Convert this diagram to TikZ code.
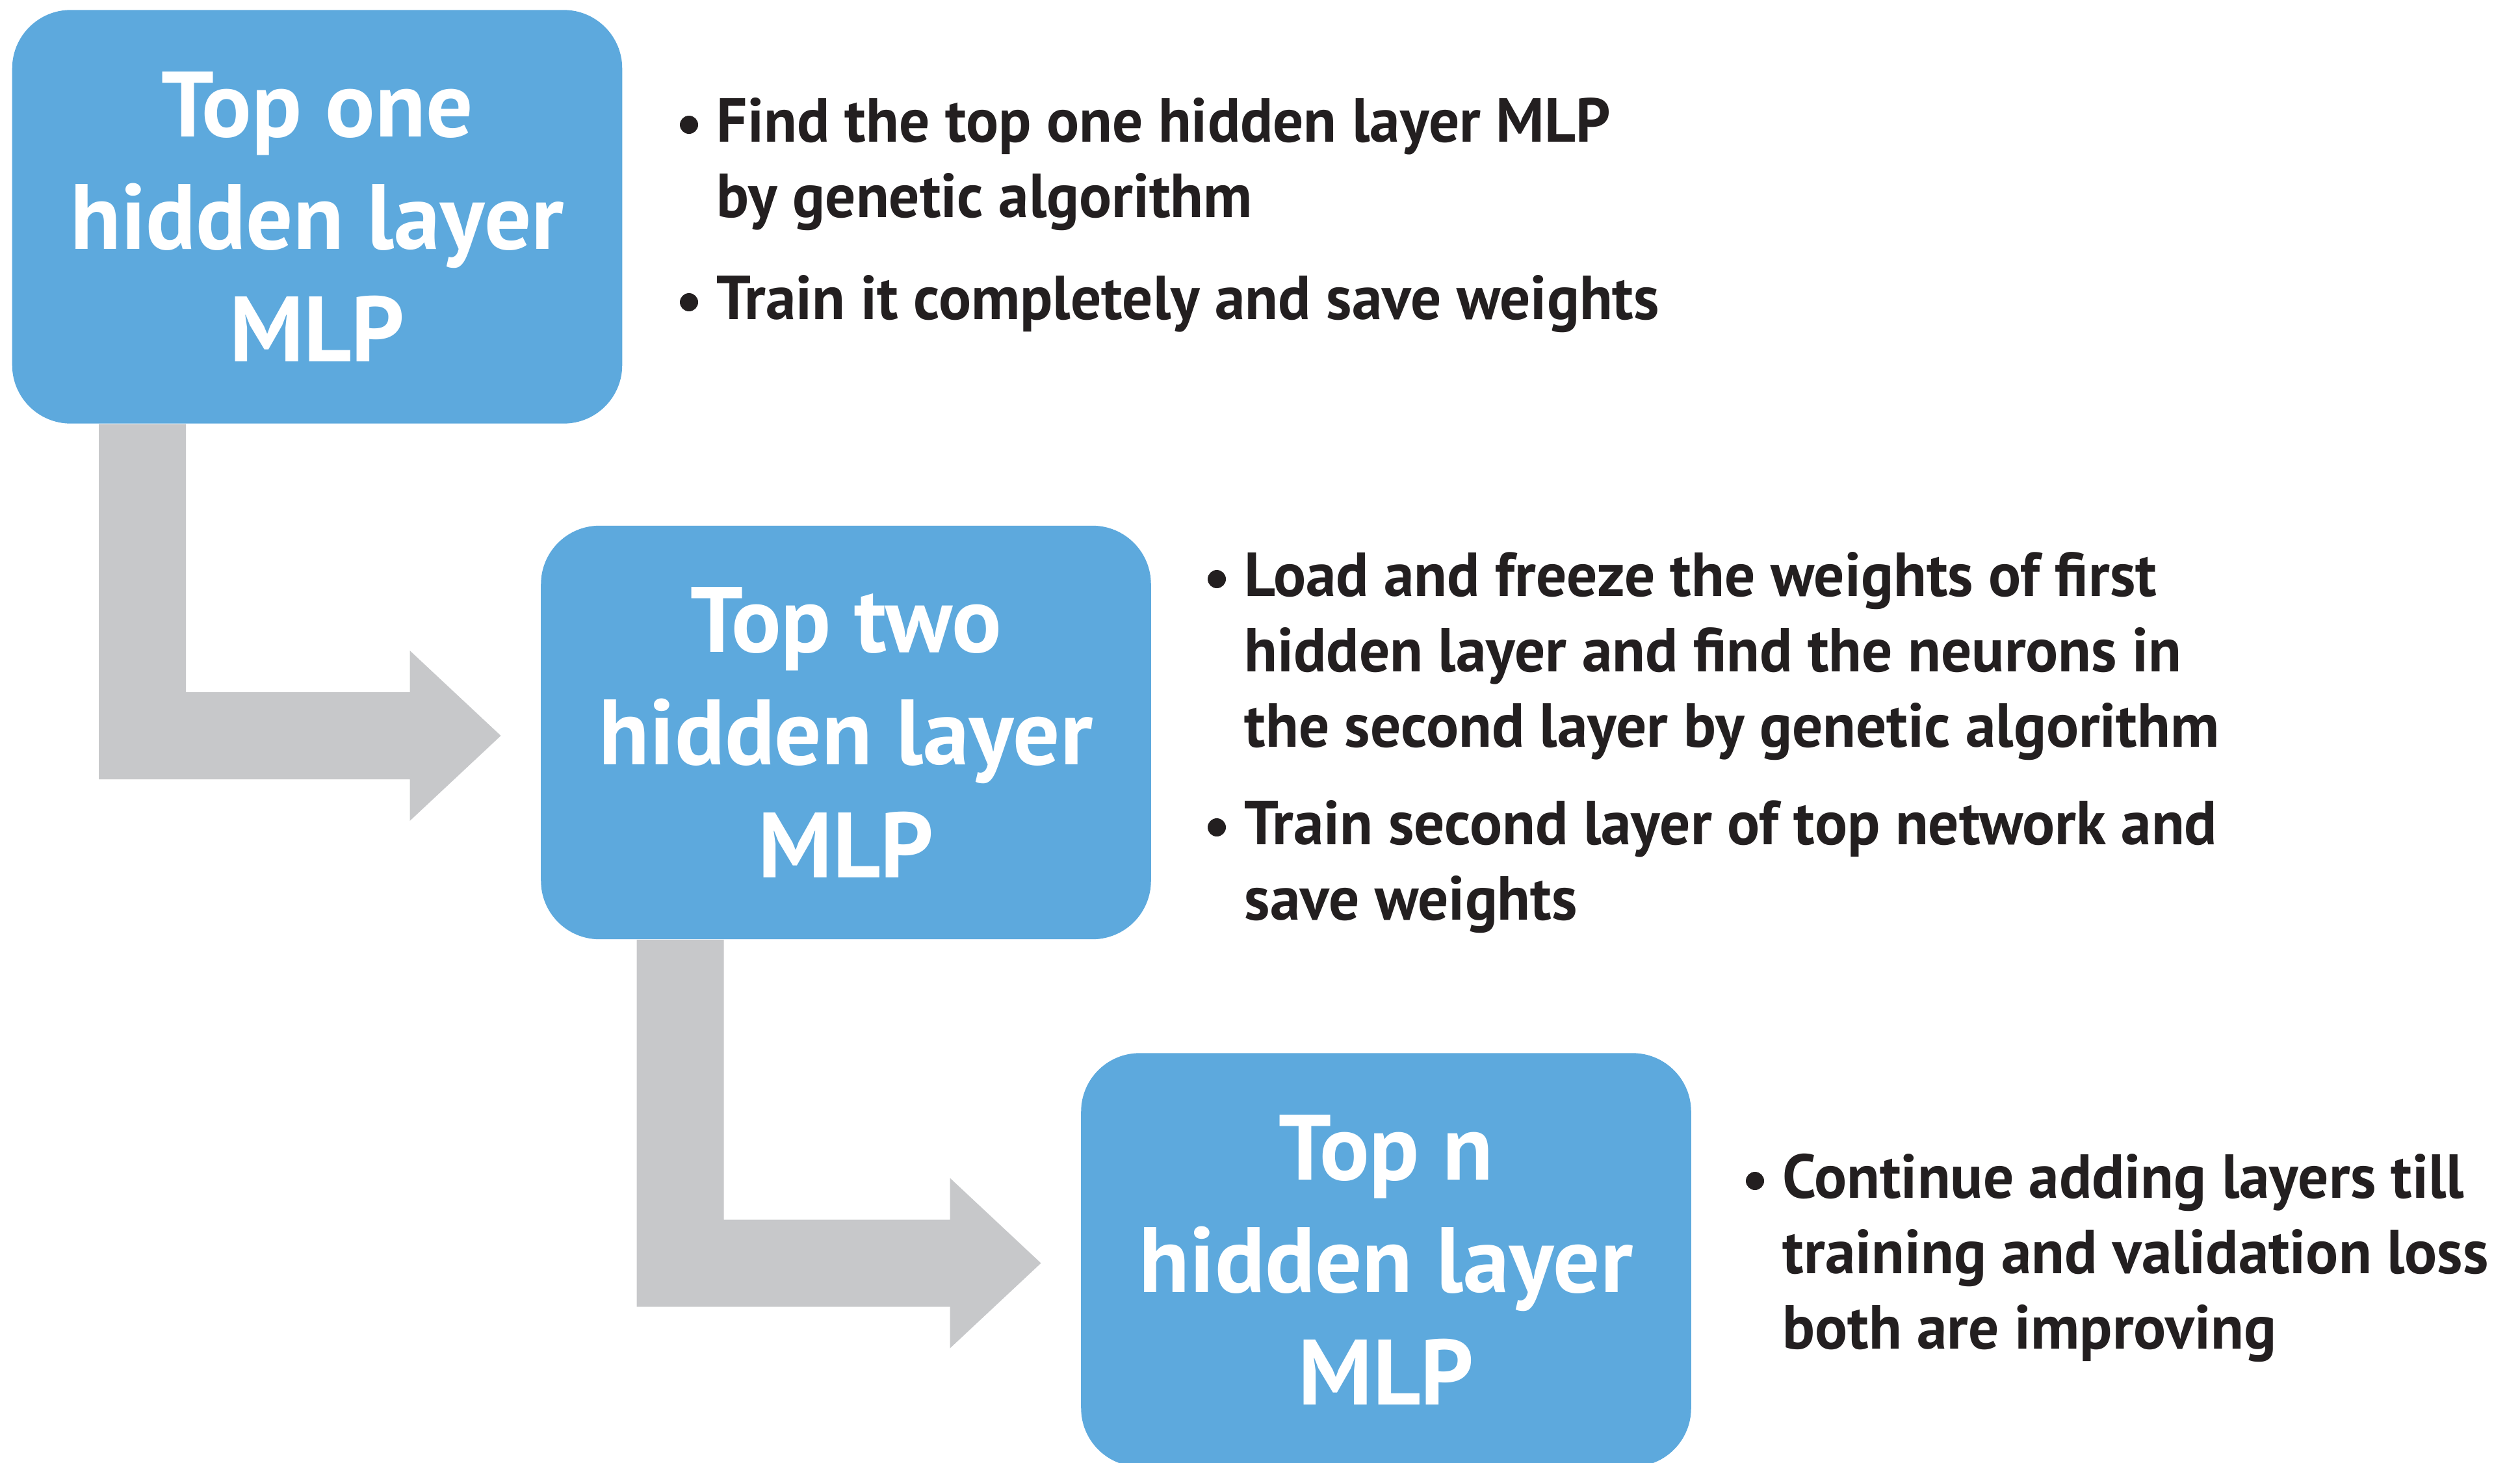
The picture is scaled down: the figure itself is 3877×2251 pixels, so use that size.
\documentclass[tikz,border=0pt]{standalone}
\usepackage{fontspec}
\setmainfont{PT Sans}
\newfontfamily\itemfont{PT Sans}[FakeStretch=0.975]
\usetikzlibrary{calc}

\definecolor{boxblue}{HTML}{5DA9DD}
\definecolor{pipegray}{HTML}{C7C8CA}
\definecolor{inkblack}{HTML}{231F20}

\tikzset{
  blk/.style={fill=boxblue, rounded corners=0.9cm, minimum width=9.38cm, minimum height=6.36cm,
    inner sep=0pt, text=white, align=center, font=\fontsize{40.6}{49.2}\selectfont\bfseries},
  item/.style={anchor=base west, inner sep=0pt, text=inkblack,
    font=\itemfont\fontsize{27.2}{33}\selectfont\bfseries},
  pipe/.style={fill=pipegray},
}

% lines of a bullet, baseline on the first line
\newcommand{\lines}[1]{\begin{tabular}[t]{@{}l@{}}#1\end{tabular}}

% bent arrow from the bottom of #1 to the left side of #2, stem #3 in from the left
\newcommand{\elbow}[3]{%
  \path ($(#1.south west)+(#3,0)$) coordinate (#1-s)
        ($(#2.west)+(-61,5)$) coordinate (#1-t);
  \fill[pipe] (#1-s) -- ($(#1-s |- #1-t)+(0,67)$) -- ($(#1-t)+(-140,67)$)
    -- ($(#1-t)+(-140,131)$) -- (#1-t) -- ($(#1-t)+(-140,-131)$)
    -- ($(#1-t)+(-140,-67)$) -- ($(#1-s |- #1-t)+(134,-67)$) -- ($(#1-s)+(134,0)$) -- cycle;
}

\begin{document}
\begin{tikzpicture}[x=0.01cm, y=-0.01cm]
  \useasboundingbox (0,0) rectangle (3877,2251);

  \foreach \name/\cx/\cy/\txt in {b1/488/333.5/{Top one\\hidden layer\\MLP},
                                  b2/1301.5/1127/{Top two\\hidden layer\\MLP},
                                  b3/2132.5/1938.5/{Top n\\hidden layer\\MLP}} {
    \node[blk] (\name) at (\cx,\cy) {\txt};
  }

  \elbow{b1}{b2}{134}
  \elbow{b2}{b3}{148}

  \node[item] (i1a) at (1102,218) {\lines{Find the top one hidden layer MLP\\by genetic algorithm}};
  \node[item] (i1b) at (1102,491) {\lines{Train it completely and save weights}};
  \node[item] (i2a) at (1914,917) {\lines{Load and freeze the weights of first\\hidden layer and find the neurons in\\the second layer by genetic algorithm}};
  \node[item] (i2b) at (1914,1299) {\lines{Train second layer of top network and\\save weights}};
  \node[item] (i3a) at (2742,1843) {\lines{Continue adding layers till\\training and validation loss\\both are improving}};

  \foreach \i in {i1a,i1b,i2a,i2b,i3a} {
    \fill[inkblack] ($(\i.base west)+(-42,-26)$) circle[radius=14];
  }
\end{tikzpicture}
\end{document}
